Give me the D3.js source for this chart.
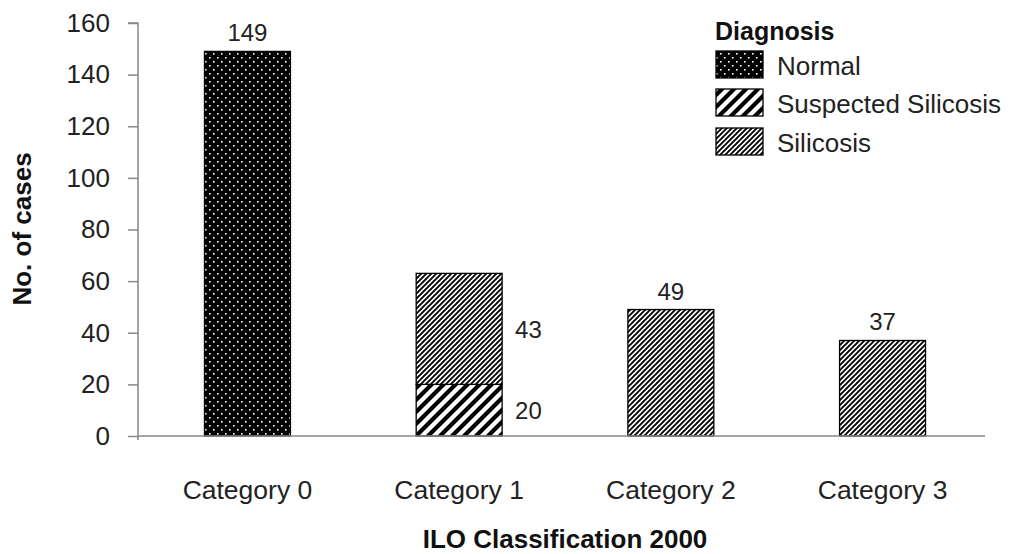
<!DOCTYPE html>
<html>
<head>
<meta charset="utf-8">
<script src="https://cdn.jsdelivr.net/npm/d3@7"></script>
<style>
  body { margin: 0; background: #fff; }
  svg { display: block; font-family: "Liberation Sans", Arial, sans-serif; }
</style>
</head>
<body>
<svg id="chart" width="1010" height="554"></svg>
<script>
// ILO classification categories and case counts by diagnosis
const categories = ["Category 0", "Category 1", "Category 2", "Category 3"];
const normal    = [149, 0, 0, 0];
const suspected = [0, 20, 0, 0];
const silicosis = [0, 43, 49, 37];
const yTicks = [0, 20, 40, 60, 80, 100, 120, 140, 160];
const seriesNames = ["Normal", "Suspected Silicosis", "Silicosis"];

const svg = d3.select("#chart");
const plotLeft = 138, plotRight = 985, plotTop = 23, plotBottom = 436;

const x = d3.scaleBand().domain(categories)
  .range([plotLeft, 992]).paddingInner(0.594).paddingOuter(0.314);
const y = d3.scaleLinear().domain([0, 160]).range([plotBottom, plotTop]);

// Fill patterns
const defs = svg.append("defs");
const dots = defs.append("pattern").attr("id", "pat-normal")
  .attr("patternUnits", "userSpaceOnUse").attr("width", 8).attr("height", 8);
dots.append("rect").attr("width", 8).attr("height", 8).attr("fill", "#000");
dots.append("rect").attr("x", 1).attr("y", 1).attr("width", 1.6).attr("height", 1.6).attr("fill", "#fff");
dots.append("rect").attr("x", 5).attr("y", 5).attr("width", 1.6).attr("height", 1.6).attr("fill", "#fff");

function stripes(id, size, lw) {
  const p = defs.append("pattern").attr("id", id)
    .attr("patternUnits", "userSpaceOnUse").attr("width", size).attr("height", size);
  p.append("rect").attr("width", size).attr("height", size).attr("fill", "#fff");
  p.append("path")
    .attr("d", `M${-size},${size} L${size},${-size} M0,${2*size} L${2*size},0 M0,${size} L${size},0`)
    .attr("stroke", "#000").attr("stroke-width", lw);
}
stripes("pat-suspected", 12, 4.2);
stripes("pat-silicosis", 5, 1.9);

const fills = ["url(#pat-normal)", "url(#pat-suspected)", "url(#pat-silicosis)"];

// Stacked layout
const rows = categories.map((c, i) => ({ cat: c, Normal: normal[i], Suspected: suspected[i], Silicosis: silicosis[i] }));
const layers = d3.stack().keys(["Normal", "Suspected", "Silicosis"])(rows);

layers.forEach((layer, li) => {
  svg.append("g").selectAll("rect")
    .data(layer.filter(d => d[1] - d[0] > 0))
    .join("rect")
    .attr("x", d => x(d.data.cat))
    .attr("width", x.bandwidth())
    .attr("y", d => y(d[1]))
    .attr("height", d => y(d[0]) - y(d[1]))
    .attr("fill", fills[li])
    .attr("stroke", "#000").attr("stroke-width", 1.3);
});

// Axes
const axisColor = "#888";
const font = "Liberation Sans, Arial, sans-serif";
const yAxis = svg.append("g").attr("transform", `translate(${plotLeft},0)`)
  .call(d3.axisLeft(y).tickValues(yTicks).tickSize(10).tickPadding(18));
yAxis.select(".domain").attr("stroke", axisColor).attr("stroke-width", 1.5)
  .attr("d", `M-10,${y(160)}H0V${y(0) + 4}`);
yAxis.selectAll(".tick line").attr("stroke", axisColor).attr("stroke-width", 1.5);
yAxis.selectAll("text").attr("font-size", 26).attr("fill", "#222").attr("font-family", font);

const xAxis = svg.append("g").attr("transform", `translate(0,${y(0)})`)
  .call(d3.axisBottom(x).tickSize(0).tickPadding(44));
xAxis.select(".domain").attr("stroke", axisColor).attr("stroke-width", 1.5)
  .attr("d", `M${plotLeft},0H${plotRight}`);
xAxis.selectAll("text").attr("font-size", 26.5).attr("fill", "#222").attr("font-family", font);

// Value labels above single-series bars
const cx = c => x(c) + x.bandwidth() / 2;
const topLabels = categories.map((c, i) => ({ c, v: normal[i] + suspected[i] + silicosis[i], stacked: suspected[i] > 0 }))
  .filter(d => !d.stacked);
svg.append("g").selectAll("text").data(topLabels).join("text")
  .attr("x", d => cx(d.c)).attr("y", d => y(d.v) - 10)
  .attr("text-anchor", "middle").attr("font-size", 24).attr("fill", "#222")
  .text(d => d.v);

// Segment labels beside the stacked bar
categories.forEach((c, i) => {
  if (suspected[i] > 0) {
    const segs = [[0, suspected[i]], [suspected[i], suspected[i] + silicosis[i]]];
    segs.forEach(([a, b]) => {
      svg.append("text")
        .attr("x", x(c) + x.bandwidth() + 13)
        .attr("y", (y(a) + y(b)) / 2 + 9)
        .attr("font-size", 24).attr("fill", "#222")
        .text(b - a);
    });
  }
});

// Axis titles
svg.append("text")
  .attr("x", 565).attr("y", 548)
  .attr("text-anchor", "middle").attr("font-size", 26).attr("font-weight", "bold").attr("fill", "#111")
  .text("ILO Classification 2000");
svg.append("text")
  .attr("transform", `translate(31,229) rotate(-90)`)
  .attr("text-anchor", "middle").attr("font-size", 26).attr("font-weight", "bold").attr("fill", "#111")
  .text("No. of cases");

// Legend
const legend = svg.append("g").attr("transform", "translate(715,0)");
legend.append("text").attr("x", 0).attr("y", 40)
  .attr("font-size", 25).attr("font-weight", "bold").attr("fill", "#111").text("Diagnosis");
const legY = [51, 89, 128];
seriesNames.forEach((name, i) => {
  legend.append("rect").attr("x", 1).attr("y", legY[i]).attr("width", 47).attr("height", 27)
    .attr("fill", fills[i]).attr("stroke", "#000").attr("stroke-width", 1.3);
  legend.append("text").attr("x", 62).attr("y", legY[i] + 24)
    .attr("font-size", 26).attr("fill", "#222").text(name);
});
</script>
</body>
</html>
